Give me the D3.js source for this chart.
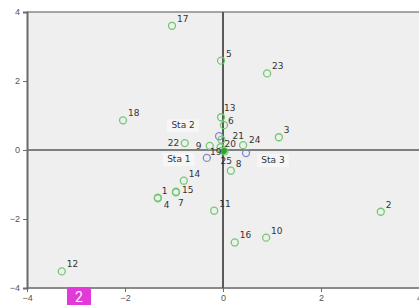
<!DOCTYPE html>
<html>
<head>
<meta charset="utf-8">
<script src="https://cdn.jsdelivr.net/npm/d3@7"></script>
<style>
  body { margin: 0; background: #fff; }
  svg { display: block; font-family: "DejaVu Sans", sans-serif; }
</style>
</head>
<body>
<div id="chart"></div>
<script>
// case scores (green) and station scores (blue)
const caseLabels = ['1', '2', '3', '4', '5', '6', '7', '8', '9', '10', '11', '12', '13',
  '14', '15', '16', '17', '18', '19', '20', '21', '22', '23', '24', '25'];
const caseX = [-1.33, 3.22, 1.14, -1.33, -0.04, 0.02, -0.96, 0.16, -0.27, 0.88, -0.18, -3.29, -0.04,
  -0.80, -0.96, 0.24, -1.04, -2.04, -0.02, -0.05, -0.03, -0.78, 0.90, 0.41, 0.03];
const caseY = [-1.38, -1.79, 0.37, -1.40, 2.59, 0.72, -1.23, -0.60, 0.12, -2.54, -1.76, -3.52, 0.95,
  -0.89, -1.21, -2.68, 3.60, 0.86, -0.02, 0.08, 0.30, 0.20, 2.22, 0.14, -0.04];

const staLabels = ['Sta 1', 'Sta 2', 'Sta 3'];
const staX = [-0.33, -0.08, 0.47];
const staY = [-0.23, 0.40, -0.09];

const xTicks = [-4, -2, 0, 2, 4];
const yTicks = [-4, -2, 0, 2, 4];

// label nudges (px) where the default up-right spot is not what the figure shows
const labelNudge = {
  '4': [6, 10], '7': [2, 14], '9': [-14, 3], '20': [4, 0], '21': [11, -1],
  '19': [-12, 4], '25': [-4, 13], '24': [6, -2], '13': [3, -6], '6': [4, -1], '1': [4, -4], '15': [6, 1],
  '22': [-17, 3]
};
const staNudge = { 'Sta 1': [-28, 4], 'Sta 2': [-36, -8], 'Sta 3': [27, 10] };

const W = 419, H = 305;
const x = d3.scaleLinear().domain([-4, 4]).range([27, 419]);
const y = d3.scaleLinear().domain([-4, 4]).range([288, 12]);

const svg = d3.select('#chart').append('svg').attr('width', W).attr('height', H);

svg.append('rect')
  .attr('x', x(-4)).attr('y', y(4))
  .attr('width', x(4) - x(-4)).attr('height', y(-4) - y(4))
  .attr('fill', '#efefef');

// frame
svg.append('line').attr('x1', x(-4)).attr('x2', W).attr('y1', y(4)).attr('y2', y(4))
  .attr('stroke', '#8a8a8a').attr('stroke-width', 1.5);
svg.append('line').attr('x1', x(-4)).attr('x2', W).attr('y1', y(-4)).attr('y2', y(-4))
  .attr('stroke', '#8a8a8a').attr('stroke-width', 2);

// reference lines at 0
svg.append('line').attr('x1', x(-4)).attr('x2', W).attr('y1', y(0)).attr('y2', y(0))
  .attr('stroke', '#5a5a5a').attr('stroke-width', 1.5);
svg.append('line').attr('x1', x(0)).attr('x2', x(0)).attr('y1', y(4)).attr('y2', y(-4))
  .attr('stroke', '#5a5a5a').attr('stroke-width', 2);

// axes
const yAxis = svg.append('g').attr('transform', `translate(${x(-4)},0)`)
  .call(d3.axisLeft(y).tickValues(yTicks).tickSize(4).tickFormat(d3.format('d')));
const xAxis = svg.append('g').attr('transform', `translate(0,${y(-4)})`)
  .call(d3.axisBottom(x).tickValues(xTicks).tickSize(4).tickFormat(d3.format('d')));
[xAxis, yAxis].forEach(a => {
  a.select('.domain').attr('stroke', '#6a6a6a').attr('stroke-width', 2);
  a.selectAll('.tick line').attr('stroke', '#6a6a6a');
  a.selectAll('.tick text').attr('fill', '#555').attr('font-size', 9);
});
xAxis.select('.domain').remove();
yAxis.selectAll('.tick text').attr('x', -7);

const cases = caseLabels.map((l, i) => ({ label: l, x: caseX[i], y: caseY[i] }));
const stations = staLabels.map((l, i) => ({ label: l, x: staX[i], y: staY[i] }));

// station points
svg.append('g').selectAll('circle').data(stations).join('circle')
  .attr('cx', d => x(d.x)).attr('cy', d => y(d.y)).attr('r', 3.5)
  .attr('fill', 'none').attr('stroke', '#8088cc').attr('stroke-width', 1.3);

const staText = svg.append('g').selectAll('g').data(stations).join('g')
  .attr('transform', d => {
    const n = staNudge[d.label];
    return `translate(${x(d.x) + n[0]},${y(d.y) + n[1]})`;
  });
staText.append('rect').attr('x', -16).attr('y', -9).attr('width', 32).attr('height', 13)
  .attr('fill', '#fafafa').attr('opacity', 0.7);
staText.append('text').attr('text-anchor', 'middle').attr('font-size', 9)
  .attr('fill', '#333').text(d => d.label);

// case points
svg.append('g').selectAll('circle').data(cases).join('circle')
  .attr('cx', d => x(d.x)).attr('cy', d => y(d.y)).attr('r', 3.5)
  .attr('fill', 'none').attr('stroke', '#72c872').attr('stroke-width', 1.3);

// centroid blob
svg.append('circle').attr('cx', x(0.02)).attr('cy', y(-0.03)).attr('r', 3)
  .attr('fill', '#2fa32f');

svg.append('g').selectAll('text').data(cases).join('text')
  .attr('x', d => x(d.x) + (labelNudge[d.label] ? labelNudge[d.label][0] : 5))
  .attr('y', d => y(d.y) + (labelNudge[d.label] ? labelNudge[d.label][1] : -4))
  .attr('font-size', 9).attr('fill', '#333')
  .text(d => d.label);

// page badge
svg.append('path')
  .attr('d', 'M67,305 V290 Q67,287 70,287 H88 Q91,287 91,290 V305 Z')
  .attr('fill', '#e23ad8');
svg.append('text').attr('x', 79).attr('y', 302).attr('text-anchor', 'middle')
  .attr('font-size', 14).attr('fill', '#fff').attr('font-family', 'Roboto, sans-serif')
  .text('2');
</script>
</body>
</html>
